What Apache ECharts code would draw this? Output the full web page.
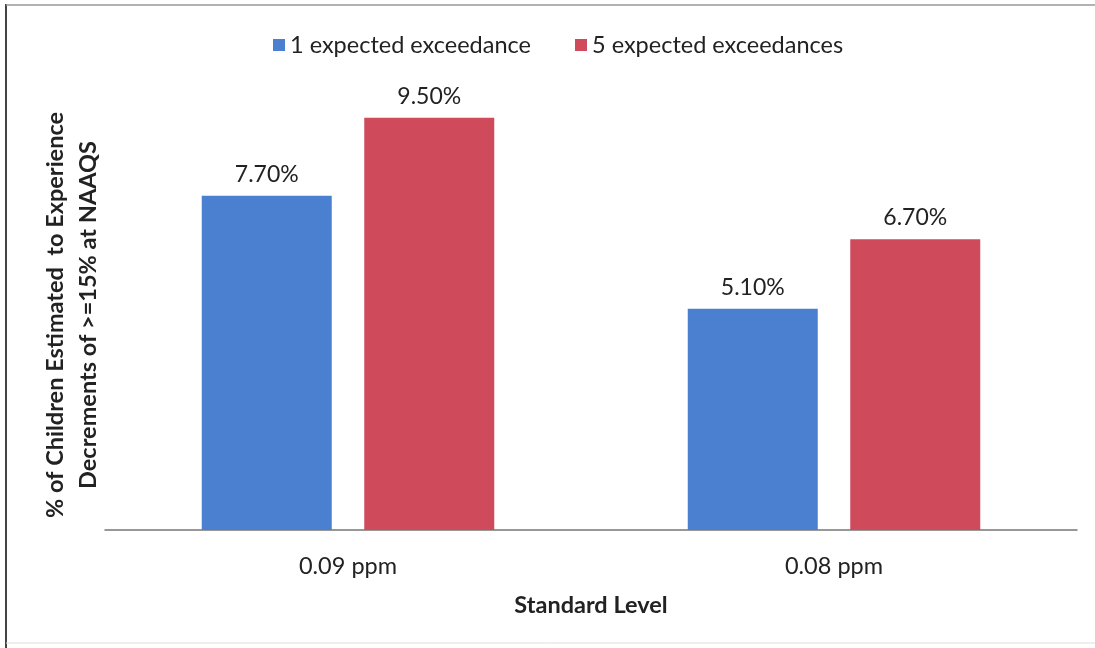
<!DOCTYPE html>
<html>
<head>
<meta charset="utf-8">
<script src="https://cdn.jsdelivr.net/npm/echarts@6/dist/echarts.min.js"></script>
<style>
  html, body { margin: 0; padding: 0; background: #fff; }
  #chart { width: 1095px; height: 648px; }
</style>
</head>
<body>
<div id="chart"></div>
<script>
// Standard levels on the x axis
const categories = ['0.09 ppm', '0.08 ppm'];
// Percent of children with FEV1 decrements >= 15%
const oneExceedance = [7.7, 5.1];
const fiveExceedances = [9.5, 6.7];
const seriesNames = ['1 expected exceedance', '5 expected exceedances'];

const FONT = 'Lato, "Open Sans", sans-serif';

const chart = echarts.init(document.getElementById('chart'));

const labelCfg = {
  show: true,
  position: 'top',
  distance: 10,
  color: '#222',
  fontFamily: FONT,
  fontSize: 23,
  formatter: p => p.value.toFixed(2) + '%'
};

chart.setOption({
  backgroundColor: '#fff',
  animation: false,
  textStyle: { fontFamily: FONT },
  legend: {
    top: 33,
    left: 273,
    padding: 0,
    itemWidth: 12,
    itemHeight: 12,
    itemGap: 44,
    icon: 'rect',
    textStyle: { fontFamily: FONT, fontSize: 23.5, color: '#222' },
    data: seriesNames
  },
  grid: { left: 105, right: 18, top: 96, bottom: 118 },
  xAxis: {
    type: 'category',
    data: categories,
    axisLine: { lineStyle: { color: '#777', width: 1.5 } },
    axisTick: { show: false },
    axisLabel: { color: '#222', fontSize: 23.5, fontFamily: FONT, margin: 24 },
    name: 'Standard Level',
    nameLocation: 'middle',
    nameGap: 63,
    nameTextStyle: { color: '#222', fontSize: 23.5, fontWeight: 'bold', fontFamily: FONT }
  },
  yAxis: {
    type: 'value',
    min: 0,
    max: 10,
    interval: 2,
    axisLine: { show: false },
    axisTick: { show: false },
    axisLabel: { show: false },
    splitLine: { show: false }
  },
  graphic: [
    {
      type: 'text',
      rotation: Math.PI / 2,
      style: {
        text: '% of Children Estimated  to Experience\nDecrements of >=15% at NAAQS',
        fill: '#222',
        font: 'bold 23.5px ' + FONT,
        textAlign: 'center',
        textVerticalAlign: 'middle',
        lineHeight: 33
      },
      x: 72,
      y: 315
    },
    { type: 'line', shape: { x1: 6, y1: 4, x2: 6, y2: 648 }, style: { stroke: '#444', lineWidth: 2 } },
    { type: 'line', shape: { x1: 6, y1: 5, x2: 1095, y2: 5 }, style: { stroke: '#999', lineWidth: 1.5 } },
    { type: 'line', shape: { x1: 6, y1: 643, x2: 1095, y2: 643 }, style: { stroke: '#ddd', lineWidth: 1 } }
  ],
  series: [
    {
      name: seriesNames[0],
      type: 'bar',
      data: oneExceedance,
      barWidth: 130,
      barGap: '25%',
      itemStyle: { color: '#4a80cf' },
      label: labelCfg
    },
    {
      name: seriesNames[1],
      type: 'bar',
      data: fiveExceedances,
      barWidth: 130,
      barGap: '25%',
      itemStyle: { color: '#cf4b5c' },
      label: labelCfg
    }
  ]
});
</script>
</body>
</html>
